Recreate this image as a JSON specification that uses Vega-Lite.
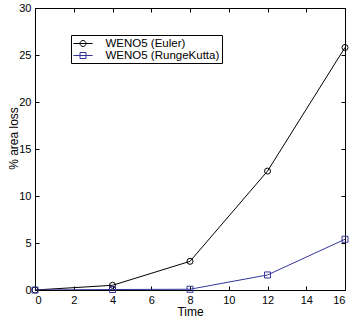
{
  "$schema": "https://vega.github.io/schema/vega-lite/v6.json",
  "width": 310,
  "height": 282,
  "autosize": {"type": "none"},
  "padding": {"left": 35, "top": 8, "right": 6, "bottom": 33},
  "background": "white",
  "config": {
    "view": {"stroke": "black", "strokeWidth": 1},
    "font": "Liberation Sans",
    "axis": {"grid": false, "domainColor": "black", "tickColor": "black", "labelColor": "black", "titleColor": "black", "labelFont": "Liberation Sans", "titleFont": "Liberation Sans", "labelFontSize": 11, "titleFontSize": 12, "titleFontWeight": "normal", "tickSize": -4, "domainWidth": 1, "tickWidth": 1}
  },
  "data": {"values": [
    {"t": 0, "loss": 0, "series": "WENO5 (Euler)"},
    {"t": 4, "loss": 0.5, "series": "WENO5 (Euler)"},
    {"t": 8, "loss": 3.05, "series": "WENO5 (Euler)"},
    {"t": 12, "loss": 12.65, "series": "WENO5 (Euler)"},
    {"t": 16, "loss": 25.8, "series": "WENO5 (Euler)"},
    {"t": 0, "loss": 0, "series": "WENO5 (RungeKutta)"},
    {"t": 4, "loss": 0.05, "series": "WENO5 (RungeKutta)"},
    {"t": 8, "loss": 0.08, "series": "WENO5 (RungeKutta)"},
    {"t": 12, "loss": 1.6, "series": "WENO5 (RungeKutta)"},
    {"t": 16, "loss": 5.4, "series": "WENO5 (RungeKutta)"}
  ]},
  "resolve": {"axis": {"x": "independent", "y": "independent"}},
  "layer": [
    {
      "mark": {"type": "line", "strokeWidth": 1, "clip": true},
      "encoding": {
        "x": {"field": "t", "type": "quantitative", "scale": {"domain": [0, 16], "nice": false}, "axis": {"orient": "top", "labels": true, "labelExpr": "''", "title": " ", "values": [0,2,4,6,8,10,12,14,16]}},
        "y": {"field": "loss", "type": "quantitative", "scale": {"domain": [0, 30], "nice": false}, "axis": {"orient": "right", "labels": true, "labelExpr": "''", "title": " ", "values": [0,5,10,15,20,25,30]}},
        "color": {"field": "series", "type": "nominal", "scale": {"domain": ["WENO5 (Euler)", "WENO5 (RungeKutta)"], "range": ["#000000", "#34349a"]}, "legend": {"title": null, "orient": "none", "legendX": 36, "legendY": 27, "strokeColor": "black", "fillColor": "white", "padding": 2, "rowPadding": 0, "symbolSize": 144, "symbolStrokeWidth": 1, "symbolOffset": 3.5, "labelFont": "Liberation Sans", "labelFontSize": 11.5, "labelColor": "black", "labelOffset": 16, "cornerRadius": 0, "encode": {"symbols": {"update": {"shape": {"signal": "datum.value === 'WENO5 (Euler)' ? 'M-1.6,0H1.6M-0.5,0A0.5,0.5 0 1,1 0.5,0A0.5,0.5 0 1,1 -0.5,0' : 'M-1.6,0H1.6M-0.5,-0.5H0.5V0.5H-0.5Z'"}, "fill": {"value": "transparent"}, "strokeWidth": {"value": 1}}}}}}
      }
    },
    {
      "transform": [{"filter": "datum.series === 'WENO5 (Euler)'"}],
      "mark": {"type": "point", "shape": "circle", "filled": false, "size": 36, "strokeWidth": 1, "opacity": 1},
      "encoding": {
        "x": {"field": "t", "type": "quantitative", "axis": {"orient": "bottom", "title": "Time", "values": [0,2,4,6,8,10,12,14,16], "labelPadding": 8, "titlePadding": 1}},
        "y": {"field": "loss", "type": "quantitative", "axis": {"orient": "left", "title": "% area loss", "values": [0,5,10,15,20,25,30], "labelPadding": 8, "titlePadding": -2, "titleY": 130}},
        "color": {"field": "series", "type": "nominal", "legend": null}
      }
    },
    {
      "transform": [{"filter": "datum.series === 'WENO5 (RungeKutta)'"}],
      "mark": {"type": "point", "shape": "square", "filled": false, "size": 36, "strokeWidth": 1, "opacity": 1},
      "encoding": {
        "x": {"field": "t", "type": "quantitative", "axis": null},
        "y": {"field": "loss", "type": "quantitative", "axis": null},
        "color": {"field": "series", "type": "nominal", "legend": null}
      }
    }
  ]
}
